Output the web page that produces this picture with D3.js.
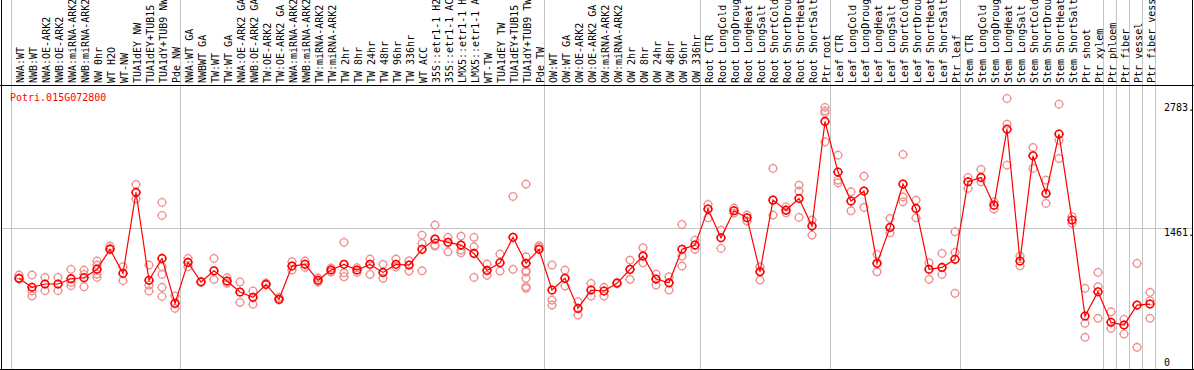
<!DOCTYPE html>
<html>
<head>
<meta charset="utf-8">
<script src="https://cdn.jsdelivr.net/npm/d3@7"></script>
<style>
  body { margin: 0; background: #fff; }
  svg { display: block; font-family: "DejaVu Sans Mono", monospace; }
</style>
</head>
<body>
<svg width="1194" height="370"></svg>
<script>
const geneName = "Potri.015G072800";

const sampleLabels = [
  "NWA:WT", "NWB:WT", "NWA:OE-ARK2", "NWB:OE-ARK2", "NWA:miRNA-ARK2", "NWB:miRNA-ARK2",
  "NW 0hr", "WT H2O", "WT-NW", "TUA1dEY NW", "TUA1dEY+TUB15 NW", "TUA1dY+TUB9 NW", "Pde NW",
  "NWA:WT GA", "NWBWT GA", "TW:WT", "TW:WT GA", "NWA:OE-ARK2 GA", "NWB:OE-ARK2 GA",
  "TW:OE-ARK2", "TW:OE-ARK2 GA", "NWA:miRNA-ARK2 GA", "NWB:miRNA-ARK2 GA", "TW:miRNA-ARK2",
  "TW:miRNA-ARK2 GA", "TW 2hr", "TW 8hr", "TW 24hr", "TW 48hr", "TW 96hr", "TW 336hr",
  "WT ACC", "35S::etr1-1 H2O", "35S::etr1-1 ACC", "LMX5::etr1-1 H2O", "LMX5::etr1-1 ACC",
  "WT-TW", "TUA1dEY TW", "TUA1dEY+TUB15 TW", "TUA1dY+TUB9 TW", "Pde TW",
  "OW:WT", "OW:WT GA", "OW:OE-ARK2", "OW:OE-ARK2 GA", "OW:miRNA-ARK2", "OW:miRNA-ARK2 GA",
  "OW 2hr", "OW 8hr", "OW 24hr", "OW 48hr", "OW 96hr", "OW 336hr",
  "Root CTR", "Root LongCold", "Root LongDrought", "Root LongHeat", "Root LongSalt",
  "Root ShortCold", "Root ShortDrought", "Root ShortHeat", "Root ShortSalt", "Ptr root",
  "Leaf CTR", "Leaf LongCold", "Leaf LongDrought", "Leaf LongHeat", "Leaf LongSalt",
  "Leaf ShortCold", "Leaf ShortDrought", "Leaf ShortHeat", "Leaf ShortSalt", "Ptr leaf",
  "Stem CTR", "Stem LongCold", "Stem LongDrought", "Stem LongHeat", "Stem LongSalt",
  "Stem ShortCold", "Stem ShortDrought", "Stem ShortHeat", "Stem ShortSalt", "Ptr shoot",
  "Ptr xylem", "Ptr phloem", "Ptr fiber", "Ptr vessel", "Ptr fiber vessel"
];

// number of samples in each block between the grey separators
const groupSizes = [13, 28, 12, 10, 10, 11, 1, 1, 1, 1];

const meanValues = [
  928, 833, 868, 868, 924, 934, 1023, 1235, 981, 1838, 907, 1139, 663,
  1097, 889, 1008, 899, 783, 727, 864, 706, 1058, 1076, 907, 1016, 1076, 1016, 1076, 991,
  1076, 1069, 1235, 1344, 1309, 1280, 1192, 1012, 1093, 1362, 1087, 1235,
  804, 928, 610, 804, 794, 875, 1023, 1164, 920, 881, 1235, 1280,
  1661, 1357, 1643, 1569, 998, 1756, 1650, 1774, 1481, 2589,
  2053, 1746, 1852, 1087, 1467, 1926, 1668, 1023, 1044, 1129,
  1950, 1996, 1703, 2507, 1111, 2225, 1827, 2455, 1545, 529, 786,
  462, 434, 645, 656
];

const replicateValues = [
  [963, 920], [963, 794, 741], [938, 797], [938, 797], [1023, 886, 850], [1016, 970, 839],
  [1111, 1069, 973, 938], [1270, 1245], [1051, 903], [1922, 1767], [1069, 857, 794],
  [1051, 970, 833, 737, 1732, 1594], [741, 610],
  [1139, 1051], [896], [1139, 917], [934, 875], [889, 674], [794, 653], [878], [727, 698],
  [1104, 1016], [1111, 1044], [931, 889], [1037, 995], [1309, 987, 945], [1040, 991],
  [1132, 970], [1076, 928],
  [1132, 1048], [1114, 1005], [1386, 1298, 1008], [1492, 1280, 1270], [1362, 1209],
  [1375, 1227, 1199], [1362, 1262, 938], [1079, 960], [1185, 1005], [1023, 1795],
  [1156, 1008, 995, 928, 839, 822, 1926], [1273, 1259],
  [1069, 698, 645], [1016, 846], [680, 540], [875, 741], [833, 741], [886], [1121, 917],
  [1252, 1093], [973, 857], [945, 804], [1164, 1058, 1499], [1333, 1235],
  [1711, 1569], [1439, 1245], [1672, 1619], [1598, 1534], [1051, 910], [2092, 1598],
  [1685, 1622], [1915, 1852, 1573], [1545, 1386], [2737, 2701, 2680, 2373],
  [2232, 1968, 1939], [1844, 1643], [2010, 1679], [1182, 998], [1563, 1410],
  [2240, 1791, 1738], [1756, 1569], [1093, 917], [1192, 970], [1421, 1203, 769],
  [1996, 1880], [2081, 1950], [1738, 1661], [2832, 2560, 2127], [1164, 1061],
  [2314, 2092], [1968, 1721], [2772, 2391, 2197], [1513, 1580], [822, 452, 304],
  [991, 839, 505], [574, 399], [494, 339], [1087, 198], [780, 688, 505]
];

const yTickValues = [0, 1461, 2783];
const yTickLabels = ["0", "1461.", "2783."];

const width = 1194;
const headerBottom = 85;
const plotBottom = 369;
const gridColor = "#c4c4c4";

const svg = d3.select("svg");

const xScale = d3.scaleLinear()
  .domain([0, sampleLabels.length])
  .range([11, 11 + 13 * sampleLabels.length]);

const yScale = d3.scaleLinear().domain([0, 1461]).range([366, 228]);

const pointX = (i) => xScale(i) + 8;

// separators between sample blocks
const separators = [0];
groupSizes.reduce((acc, n) =>
{
  separators.push(acc + n);
  return acc + n;
}, 0);

svg.append("g")
  .selectAll("line")
  .data(separators)
  .join("line")
  .attr("x1", (d) => xScale(d) + 0.5)
  .attr("x2", (d) => xScale(d) + 0.5)
  .attr("y1", 0)
  .attr("y2", plotBottom)
  .attr("stroke", gridColor);

// mid gridline
svg.append("line")
  .attr("x1", 1)
  .attr("x2", width - 1)
  .attr("y1", Math.round(yScale(1461)) + 0.5)
  .attr("y2", Math.round(yScale(1461)) + 0.5)
  .attr("stroke", gridColor);

// frame
svg.append("line").attr("x1", 1.5).attr("x2", 1.5).attr("y1", 0).attr("y2", plotBottom + 1).attr("stroke", "#000");
svg.append("line").attr("x1", width - 1.5).attr("x2", width - 1.5).attr("y1", 0).attr("y2", plotBottom + 1).attr("stroke", "#000");
svg.append("line").attr("x1", 0).attr("x2", width).attr("y1", headerBottom + 0.5).attr("y2", headerBottom + 0.5).attr("stroke", "#000");
svg.append("line").attr("x1", 0).attr("x2", width).attr("y1", plotBottom + 0.5).attr("y2", plotBottom + 0.5).attr("stroke", "#000");

// rotated sample labels
svg.append("g")
  .selectAll("text")
  .data(sampleLabels)
  .join("text")
  .attr("transform", (d, i) => `translate(${ pointX(i) + 5 }, ${ headerBottom - 2 }) rotate(-90)`)
  .attr("font-size", 10)
  .attr("fill", "#000")
  .text((d) => d);

// y labels
svg.append("g")
  .selectAll("text")
  .data(yTickValues)
  .join("text")
  .attr("x", 1164)
  .attr("y", (d) => d === 0 ? yScale(d) - 7 : yScale(d) + 1)
  .attr("dominant-baseline", "hanging")
  .attr("font-size", 10)
  .attr("fill", "#000")
  .text((d, i) => yTickLabels[i]);

// gene name
svg.append("text")
  .attr("x", 10)
  .attr("y", 101)
  .attr("font-size", 10)
  .attr("fill", "#ff0000")
  .text(geneName);

function markerPath(x, y)
{
  const r = 3.8;
  const p = d3.path();
  p.moveTo(x + r, y);
  p.arc(x, y, r, 0, Math.PI * 2);
  p.moveTo(x, y - r - 1); p.lineTo(x, y - r);
  p.moveTo(x, y + r); p.lineTo(x, y + r + 1);
  p.moveTo(x - r - 1, y); p.lineTo(x - r, y);
  p.moveTo(x + r, y); p.lineTo(x + r + 1, y);
  return p.toString();
}

const repPoints = [];
replicateValues.forEach((reps, i) =>
{
  reps.forEach((v) => repPoints.push([i, v]));
});

svg.append("g")
  .selectAll("path")
  .data(repPoints)
  .join("path")
  .attr("d", (d) => markerPath(pointX(d[0]), yScale(d[1])))
  .attr("fill", "none")
  .attr("stroke", "#f09090")
  .attr("stroke-width", 1.3);

const lineGenerator = d3.line()
  .x((d, i) => pointX(i))
  .y((d) => yScale(d));

svg.append("path")
  .datum(meanValues)
  .attr("d", lineGenerator)
  .attr("fill", "none")
  .attr("stroke", "#ff0000")
  .attr("stroke-width", 1.2);

svg.append("g")
  .selectAll("path")
  .data(meanValues)
  .join("path")
  .attr("d", (d, i) => markerPath(pointX(i), yScale(d)))
  .attr("fill", "none")
  .attr("stroke", "#ff0000")
  .attr("stroke-width", 1.6);
</script>
</body>
</html>
